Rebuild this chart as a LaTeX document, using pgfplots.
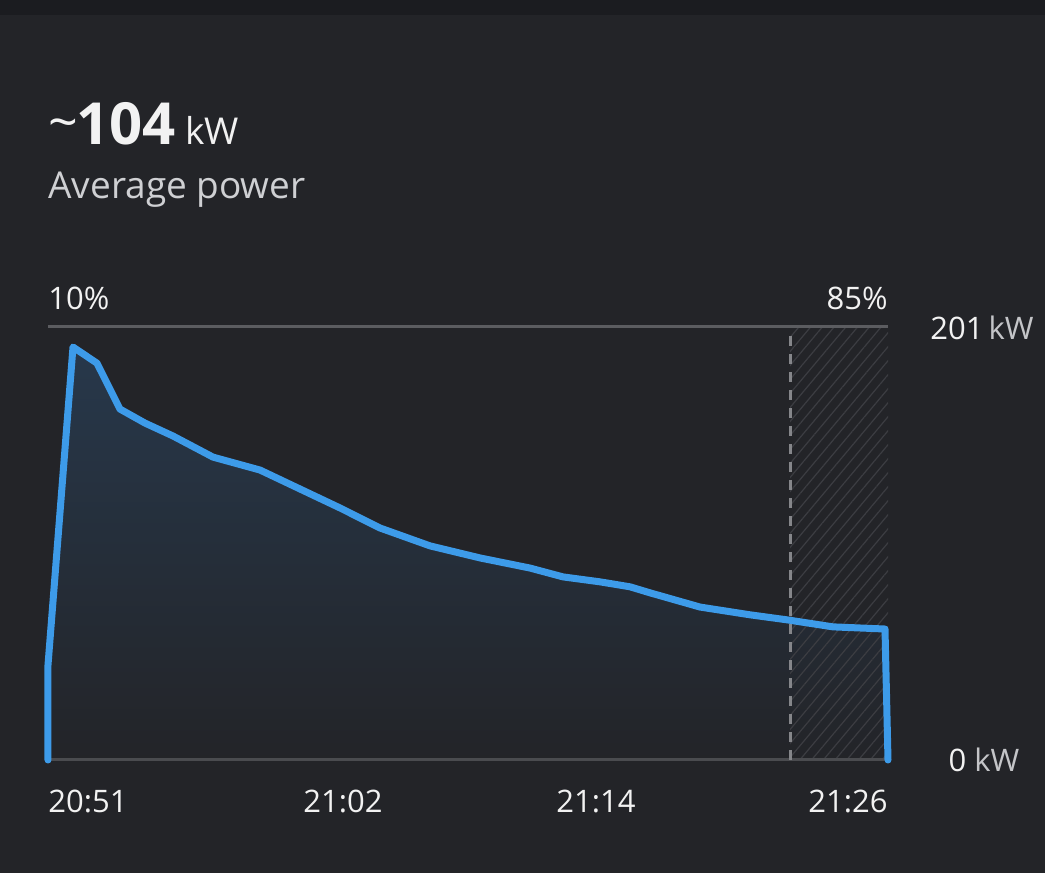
\documentclass[border=0pt]{standalone}
\usepackage{pgfplots}
\pgfplotsset{compat=1.18}
\usepackage{fontspec}
\setmainfont{Open Sans}
\usetikzlibrary{patterns.meta}
\definecolor{bg}{HTML}{232428}
\definecolor{topbar}{HTML}{1B1C20}
\definecolor{lineblue}{HTML}{3D9BE9}
\definecolor{filltop}{HTML}{27384B}
\definecolor{gridtop}{HTML}{5B5C60}
\definecolor{gridbot}{HTML}{4A4B4F}
\definecolor{dashc}{HTML}{85868A}
\definecolor{hatchc}{HTML}{3C3D42}
\definecolor{txtw}{HTML}{F2F2F2}
\definecolor{txtg}{HTML}{CFD0D3}
\definecolor{txtu}{HTML}{C4C5C8}
\pgfplotstableread{
x y
0 0
0 44.1
25 191.7
49 184.2
72 162.9
97 156.4
125 150.4
165 140.6
212 134.6
252 125.8
292 117.0
332 107.7
382 99.4
432 93.8
482 89.1
515 85.0
552 82.7
582 80.4
602 77.6
652 71.0
702 67.4
740 65.0
785 61.8
837 60.8
840 0
}\power
\begin{document}
\begin{tikzpicture}[x=0.5pt,y=0.5pt]
\fill[bg] (0,0) rectangle (1045,873);
\fill[topbar] (0,858) rectangle (1045,873);
\begin{axis}[
  at={(24pt,56.5pt)}, anchor=origin,
  scale only axis, width=420pt, height=216.5pt,
  xmin=0, xmax=840, ymin=0, ymax=201,
  hide axis, xtick=\empty, ytick=\empty, clip=false,
]
\addplot[draw=none, top color=filltop, bottom color=bg] table[x=x,y=y] {\power} \closedcycle;
\addplot[draw=none, pattern={Lines[angle=50, distance=4.5pt, line width=0.6pt]}, pattern color=hatchc]
  coordinates {(742,0) (840,0) (840,201) (742,201)} -- cycle;
\addplot[gridtop, line width=1.5pt] coordinates {(0,201) (840,201)};
\addplot[gridbot, line width=1.5pt] coordinates {(0,0) (840,0)};
\addplot[dashc, line width=1.5pt, dash pattern=on 5pt off 4pt] coordinates {(742,0) (742,199)};
\addplot[lineblue, line width=3.5pt, line join=round, line cap=round] table[x=x,y=y] {\power};
\end{axis}
\node[anchor=base west, inner sep=0pt, text=txtw] at (48,728)
  {\raisebox{2pt}{\fontsize{26}{28}\selectfont\textasciitilde}\hspace{-1pt}{\fontsize{29}{32}\selectfont\bfseries 104}\hspace{5pt}{\fontsize{18.5}{22}\selectfont kW}};
\node[anchor=base west, inner sep=0pt, text=txtg] at (48,674)
  {\fontsize{18.5}{22}\selectfont Average power};
\node[anchor=base west, inner sep=0pt, text=txtw] at (48,563) {\fontsize{15.5}{18}\selectfont 10\%};
\node[anchor=base east, inner sep=0pt, text=txtw] at (888,563) {\fontsize{15.5}{18}\selectfont 85\%};
\node[anchor=base, inner sep=0pt, text=txtw] at (982,533) {\fontsize{15.5}{18}\selectfont 201\,\textcolor{txtu}{kW}};
\node[anchor=base, inner sep=0pt, text=txtw] at (984,101) {\fontsize{15.5}{18}\selectfont 0 \textcolor{txtu}{kW}};
\node[anchor=base west, inner sep=0pt, text=txtw] at (48,60) {\fontsize{15.5}{18}\selectfont 20:51};
\node[anchor=base, inner sep=0pt, text=txtw] at (343,60) {\fontsize{15.5}{18}\selectfont 21:02};
\node[anchor=base, inner sep=0pt, text=txtw] at (596,60) {\fontsize{15.5}{18}\selectfont 21:14};
\node[anchor=base east, inner sep=0pt, text=txtw] at (888,60) {\fontsize{15.5}{18}\selectfont 21:26};
\end{tikzpicture}
\end{document}
